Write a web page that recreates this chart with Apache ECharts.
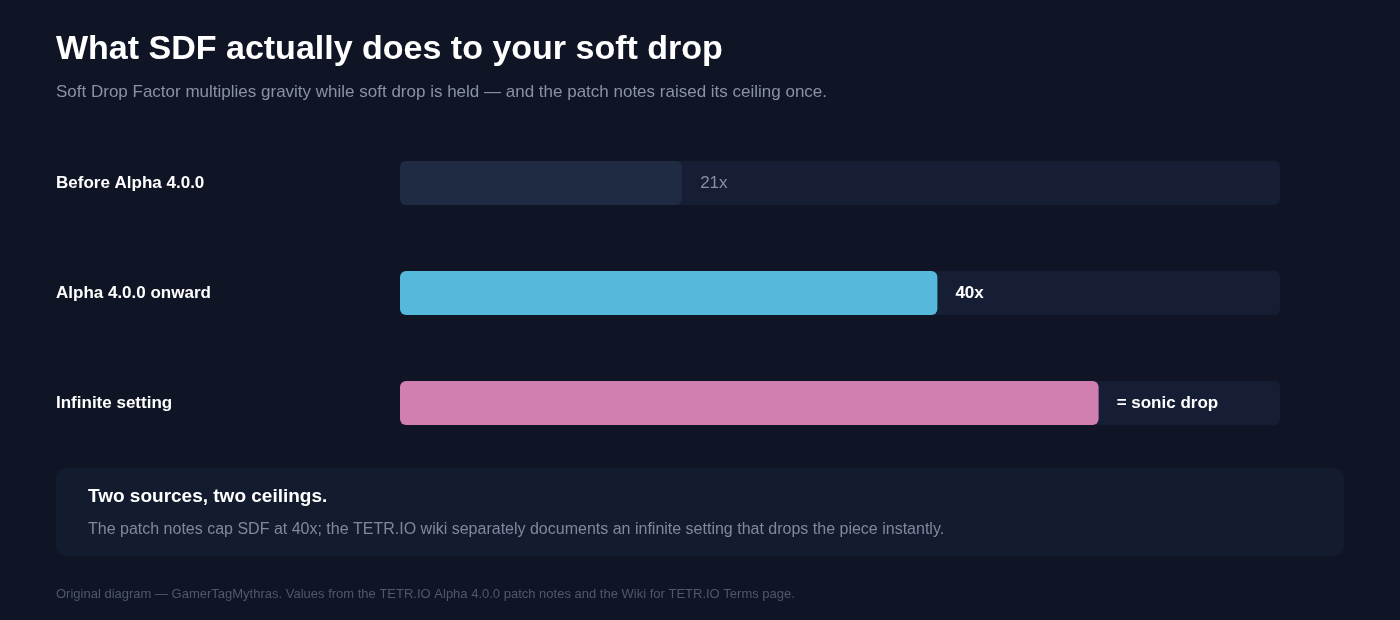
<!DOCTYPE html>
<html>
<head>
<meta charset="utf-8">
<script src="https://cdn.jsdelivr.net/npm/echarts@6/dist/echarts.min.js"></script>
<style>
  html, body { margin: 0; padding: 0; background: #0f1524; }
  #chart { width: 1400px; height: 620px; }
</style>
</head>
<body>
<div id="chart"></div>
<script>
// rows, top to bottom
const categories = ['Before Alpha 4.0.0', 'Alpha 4.0.0 onward', 'Infinite setting']
// SDF multiplier; the infinite row is drawn at the length it has in the picture
const values = [21, 40, 52]
const valueLabels = ['21x', '40x', '= sonic drop']
const barColors = ['#1f2a43', '#56b8da', '#d17eb0']
const labelColors = ['#8890a6', '#ffffff', '#ffffff']
const labelWeights = ['normal', 'bold', 'bold']
const axisMax = 65.5

const font = '"Liberation Sans", Arial, Helvetica, sans-serif'
const chart = echarts.init(document.getElementById('chart'))

const option = {
    backgroundColor: '#0f1524',
    animation: false,
    textStyle: { fontFamily: font },
    title: [{
        text: 'What SDF actually does to your soft drop',
        left: 56,
        top: 33,
        padding: 0,
        textStyle: { color: '#ffffff', fontSize: 34, fontWeight: 'bold', fontFamily: font }
    }, {
        text: 'Soft Drop Factor multiplies gravity while soft drop is held — and the patch notes raised its ceiling once.',
        left: 56,
        top: 84,
        padding: 0,
        textStyle: { color: '#8a92a6', fontSize: 17, fontWeight: 'normal', fontFamily: font }
    }],
    grid: { left: 400, right: 120, top: 128, bottom: 162 },
    xAxis: {
        type: 'value',
        min: 0,
        max: axisMax,
        show: false
    },
    yAxis: {
        type: 'category',
        inverse: true,
        data: categories,
        axisLine: { show: false },
        axisTick: { show: false },
        splitLine: { show: false },
        axisLabel: {
            align: 'left',
            margin: 344,
            color: '#ffffff',
            fontSize: 17,
            fontWeight: 'bold',
            fontFamily: font,
            padding: [4, 0, 0, 0]
        }
    },
    series: [{
        type: 'bar',
        barWidth: 44,
        showBackground: true,
        backgroundStyle: { color: '#161e35', borderRadius: 6 },
        data: values.map((v, i) => ({
            value: v,
            itemStyle: { color: barColors[i], borderRadius: 6 },
            label: {
                show: true,
                position: 'right',
                distance: 18,
                formatter: valueLabels[i],
                color: labelColors[i],
                fontWeight: labelWeights[i],
                fontSize: 17,
                fontFamily: font,
                padding: [4, 0, 0, 0]
            }
        }))
    }],
    graphic: [{
        type: 'rect',
        left: 56,
        top: 468,
        shape: { width: 1288, height: 88, r: 10 },
        style: { fill: '#131b2e' },
        z: -1
    }, {
        type: 'text',
        left: 88,
        top: 487,
        style: {
            text: 'Two sources, two ceilings.',
            fill: '#ffffff',
            font: 'bold 19px ' + font
        }
    }, {
        type: 'text',
        left: 88,
        top: 522,
        style: {
            text: 'The patch notes cap SDF at 40x; the TETR.IO wiki separately documents an infinite setting that drops the piece instantly.',
            fill: '#8088a0',
            font: '16px ' + font
        }
    }, {
        type: 'text',
        left: 56,
        top: 588,
        style: {
            text: 'Original diagram — GamerTagMythras. Values from the TETR.IO Alpha 4.0.0 patch notes and the Wiki for TETR.IO Terms page.',
            fill: '#4f586d',
            font: '13px ' + font
        }
    }]
}

chart.setOption(option)
</script>
</body>
</html>
